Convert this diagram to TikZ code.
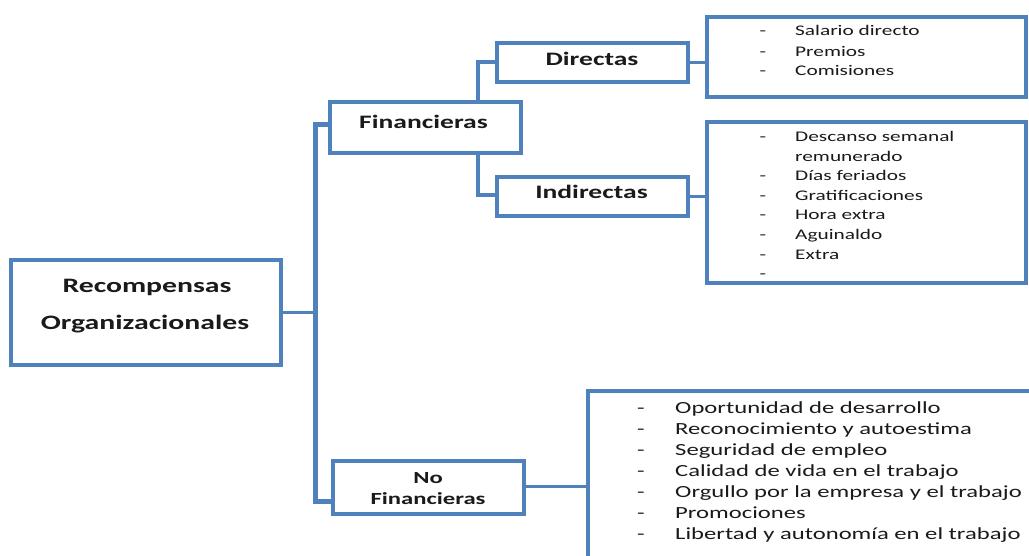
\documentclass[tikz,border=0pt]{standalone}
\usepackage{fontspec}
\setmainfont{Carlito}
\newfontfamily\hf[FakeStretch=1.45]{Carlito}
\definecolor{bl}{HTML}{4F81BD}
\definecolor{tx}{HTML}{1A1A1A}
\begin{document}
\begin{tikzpicture}[x=1pt,y=-1pt,
  box/.style={draw=bl, fill=white, line width=2.7pt, rectangle, inner sep=0},
  conn/.style={draw=bl, line width=4pt, line join=miter},
  trunk/.style={draw=bl, line width=5pt, line join=miter},
  hd/.style={inner sep=0, anchor=base, text=tx, font=\hf\bfseries\fontsize{19}{19}\selectfont},
  hdbig/.style={hd, font=\hf\bfseries\fontsize{20.5}{20.5}\selectfont},
  hdsm/.style={hd, font=\hf\bfseries\fontsize{17}{17}\selectfont},
  li/.style={inner sep=0, anchor=base west, text=tx, font=\hf\fontsize{14.7}{14.7}\selectfont},
  lidash/.style={inner sep=0, anchor=base, text=tx, font=\hf\fontsize{14.7}{14.7}\selectfont},
  lb/.style={inner sep=0, anchor=base west, text=tx, font=\hf\fontsize{17}{17}\selectfont},
  lbdash/.style={inner sep=0, anchor=base, text=tx, font=\hf\fontsize{17}{17}\selectfont}]
\useasboundingbox (0,0) rectangle (1029,555);
\clip (0,0) rectangle (1029,555);
% boxes
\node[box, minimum width=268pt, minimum height=103pt] (rec) at (146,312.5) {};
\node[box, minimum width=189pt, minimum height=49pt] (fin) at (425.5,127.5) {};
\node[box, minimum width=189pt, minimum height=37pt] (dir) at (592.5,62.5) {};
\node[box, minimum width=189pt, minimum height=37pt] (ind) at (592.5,196.5) {};
\node[box, minimum width=189pt, minimum height=51pt] (nof) at (428.5,487.5) {};
\node[box, minimum width=317pt, minimum height=78pt] (ldir) at (866.5,57) {};
\node[box, minimum width=317pt, minimum height=159pt] (lind) at (866.5,202.5) {};
\node[box, minimum width=455pt, minimum height=178pt] (lnof) at (816.5,481) {};
% connectors
\coordinate (tA) at (315,124);
\coordinate (tB) at (315,501);
\coordinate (tR) at (315,312);
\coordinate (fA) at (478,62);
\coordinate (fB) at (478,195);
\coordinate (nC) at (560,486);
\draw[trunk] (fin.west |- tA) -- (tA) -- (tB) -- (nof.west |- tB);
\draw[conn, line width=3pt] (rec.east |- tR) -- (tR);
\draw[conn] (fin.north -| fA) -- (fA) -- (dir.west |- fA);
\draw[conn] (fin.south -| fB) -- (fB) -- (ind.west |- fB);
\draw[conn, line width=3pt] (dir.east) -- (ldir.west |- dir.east);
\draw[conn, line width=3pt] (ind.east) -- (lind.west |- ind.east);
\draw[conn, line width=3pt] (nof.east |- nC) -- (lnof.west |- nC);
% redraw box borders over connector ends
\foreach \n in {rec,fin,dir,ind,nof,ldir,lind,lnof}{
  \draw[draw=bl, line width=2.7pt] (\n.north west) rectangle (\n.south east);
}
% header texts
\node[hdbig] (t1) at (147,292.9) {Recompensas};
\node[hdbig] (t2) at (145,329.6) {Organizacionales};
\node[hd] (t3) at (423.5,128.1) {Financieras};
\node[hd] (t4) at (592,65.6) {Directas};
\node[hd] (t5) at (591.5,198.8) {Indirectas};
\node[hdsm] (t6) at (428,483.8) {No};
\node[hdsm] (t7) at (428,504.2) {Financieras};
% Directas list
\foreach \y/\t [count=\i] in {35.7/Salario directo,56.4/Premios,75.4/Comisiones}{
  \node[lidash] (dd\i) at (763,\y) {-};
  \node[li] (dt\i) at (795,\y) {\t};
}
% Indirectas list
\node[lidash] (id1) at (763,141.4) {-};
\node[li] (it1) at (795,141.4) {Descanso semanal};
\node[li] (it1b) at (795,161) {remunerado};
\foreach \y/\t [count=\i from 2] in {180.6/Días feriados,200.2/Gratificaciones,219.8/Hora extra,239.4/Aguinaldo,259/Extra}{
  \node[lidash] (id\i) at (763,\y) {-};
  \node[li] (it\i) at (795,\y) {\t};
}
\node[lidash] (id7) at (763,278.6) {-};
% No Financieras list
\foreach \y/\t [count=\i] in {413.8/Oportunidad de desarrollo,434.8/Reconocimiento y autoestima,455.8/Seguridad de empleo,476.8/Calidad de vida en el trabajo,497.8/Orgullo por la empresa y el trabajo,518.8/Promociones,539.8/Libertad y autonomía en el trabajo}{
  \node[lbdash] (nd\i) at (641,\y) {-};
  \node[lb] (nt\i) at (675,\y) {\t};
}
\end{tikzpicture}
\end{document}
